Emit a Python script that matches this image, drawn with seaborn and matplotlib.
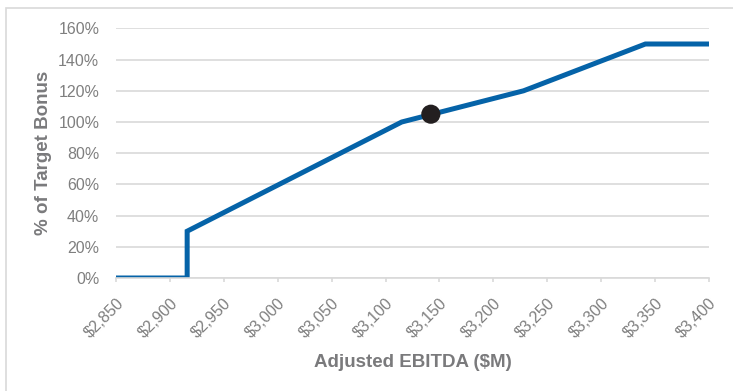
import matplotlib
matplotlib.use("Agg")
import matplotlib.pyplot as plt
from matplotlib.patches import Rectangle
import seaborn as sns
import pandas as pd

# Data
ebitda = [2850, 2916, 2916, 3115, 3228, 3341, 3400]
bonus_pct = [0, 0, 30, 100, 120, 150, 150]
actual_ebitda = [3142]
actual_bonus = [105]
x_ticks = [2850, 2900, 2950, 3000, 3050, 3100, 3150, 3200, 3250, 3300, 3350, 3400]
y_ticks = [0, 20, 40, 60, 80, 100, 120, 140, 160]

sns.set_theme(style="white")
plt.rcParams['font.family'] = ['Liberation Sans', 'DejaVu Sans']

fig = plt.figure(figsize=(7.33, 3.91), dpi=100)
ax = fig.add_axes([116/733, 1 - 278/391, (709 - 116)/733, (278 - 28.4)/391])

df = pd.DataFrame({"EBITDA": ebitda, "Bonus": bonus_pct})
sns.lineplot(data=df, x="EBITDA", y="Bonus", sort=False, estimator=None,
             color="#0563a8", linewidth=3.6, ax=ax, solid_joinstyle="miter",
             solid_capstyle="butt")
dot = pd.DataFrame({"EBITDA": actual_ebitda, "Bonus": actual_bonus})
sns.scatterplot(data=dot, x="EBITDA", y="Bonus", color="#231f20", s=190,
                edgecolor="none", ax=ax, zorder=5)

ax.set_xlim(2850, 3400)
ax.set_ylim(0, 160)
ax.set_xticks(x_ticks)
ax.set_yticks(y_ticks)

ax.grid(axis="y", color="#d9d9d9", linewidth=1.2)
ax.set_axisbelow(True)
for s in ["top", "right", "left"]:
    ax.spines[s].set_visible(False)
ax.spines["bottom"].set_color("#d9d9d9")
ax.spines["bottom"].set_linewidth(1.2)

ax.tick_params(axis="x", which="major", bottom=True, length=3, width=1.2,
               color="#d9d9d9", pad=9.5)
ax.tick_params(axis="y", left=False, pad=6)
ax.set_xticklabels([f"${v:,.0f}" for v in x_ticks], fontsize=11.5,
                   color="#7f7f7f", rotation=45, ha="right", va="top",
                   rotation_mode="anchor")
ax.set_yticklabels([f"{v:.0f}%" for v in y_ticks], fontsize=11.5,
                   color="#7f7f7f")

ax.set_xlabel("Adjusted EBITDA ($M)", fontsize=13.5, fontweight="bold",
              color="#7a7a7c", labelpad=10)
ax.set_ylabel("% of Target Bonus", fontsize=13.5, fontweight="bold",
              color="#7a7a7c", labelpad=4.5)

fig.patches.append(Rectangle((6/733, -0.1), 1.2, 1 - 8/391 + 0.1,
                             transform=fig.transFigure, fill=False,
                             edgecolor="#d9d9d9", linewidth=1.2))

fig.savefig("out.png", dpi=100)
